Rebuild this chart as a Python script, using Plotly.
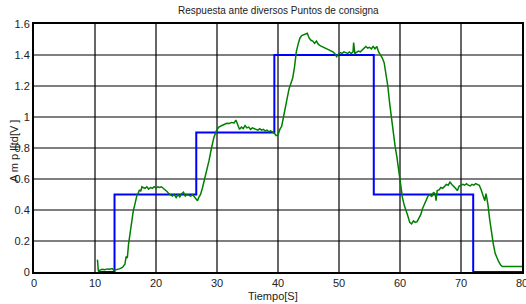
import plotly.graph_objects as go

# Setpoint (step changes)
sp_time = [10.5, 13.2, 26.6, 39.4, 55.7, 72.0, 80.0]
sp_value = [0.0, 0.5, 0.9, 1.4, 0.5, 0.0, 0.0]

# Measured response
resp_time = [
    10.4, 10.45, 10.55, 10.8, 11.2, 11.6, 12.0, 12.4, 12.8, 13.1,
    13.5, 14.0, 14.5, 14.9, 15.1, 15.3, 15.5, 15.7, 15.9, 16.1,
    16.3, 16.5, 16.7, 16.9, 17.1, 17.3, 17.5, 17.7, 17.9, 18.2,
    18.5, 18.8, 19.1, 19.4, 19.7, 20.0, 20.3, 20.6, 20.9, 21.2,
    21.5, 21.8, 22.1, 22.4, 22.7, 23.0, 23.3, 23.6, 23.9, 24.2,
    24.5, 24.8, 25.1, 25.4, 25.7, 26.0, 26.3, 26.6, 26.8, 27.0,
    27.3, 27.6, 28.0, 28.3, 28.7, 29.1, 29.5, 29.9, 30.3, 30.8,
    31.2, 31.6, 32.0, 32.4, 32.8, 33.1, 33.4, 33.7, 34.0, 34.3,
    34.6, 34.9, 35.2, 35.5, 35.8, 36.1, 36.4, 36.7, 37.0, 37.3,
    37.6, 37.9, 38.2, 38.5, 38.8, 39.1, 39.4, 39.7, 40.0, 40.3,
    40.6, 40.9, 41.2, 41.5, 41.8, 42.1, 42.4, 42.7, 43.0, 43.3,
    43.6, 43.9, 44.2, 44.5, 44.8, 45.1, 45.4, 45.7, 46.0, 46.3,
    46.6, 46.9, 47.2, 47.5, 47.8, 48.1, 48.4, 48.7, 49.0, 49.3,
    49.6, 49.9, 50.2, 50.5, 50.8, 51.1, 51.4, 51.7, 52.0, 52.3,
    52.4, 52.6, 52.9, 53.2, 53.5, 53.8, 54.1, 54.4, 54.7, 55.0,
    55.3, 55.6, 55.9, 56.2, 56.5, 56.8, 57.1, 57.4, 57.7, 58.0,
    58.3, 58.6, 58.9, 59.2, 59.5, 59.8, 60.1, 60.4, 60.7, 61.0,
    61.3, 61.6, 61.9, 62.2, 62.5, 62.8, 63.1, 63.4, 63.7, 64.0,
    64.3, 64.6, 64.9, 65.2, 65.5, 65.8, 65.9, 66.1, 66.4, 66.7,
    67.0, 67.3, 67.6, 67.9, 68.2, 68.5, 68.8, 69.1, 69.4, 69.7,
    70.0, 70.3, 70.6, 70.9, 71.2, 71.5, 71.8, 72.1, 72.4, 72.7,
    73.0, 73.3, 73.6, 73.9, 74.1, 74.4, 74.7, 75.0, 75.3, 75.6,
    75.9, 76.2, 76.5, 76.8, 80.0,
]
resp_value = [
    0.08, 0.04, 0.005, 0.012, 0.018, 0.015, 0.02, 0.018, 0.022, 0.012,
    0.015, 0.02, 0.03, 0.05, 0.10, 0.09, 0.18, 0.24, 0.30, 0.34,
    0.40, 0.43, 0.48, 0.50, 0.51, 0.53, 0.52, 0.55, 0.545, 0.54,
    0.55, 0.535, 0.545, 0.54, 0.55, 0.54, 0.55, 0.545, 0.55, 0.54,
    0.535, 0.52, 0.505, 0.50, 0.49, 0.50, 0.48, 0.50, 0.485, 0.505,
    0.515, 0.49, 0.50, 0.495, 0.49, 0.50, 0.485, 0.47, 0.46, 0.48,
    0.50, 0.54, 0.60, 0.65, 0.72, 0.80, 0.87, 0.91, 0.935, 0.945,
    0.955, 0.96, 0.958, 0.965, 0.962, 0.98, 0.95, 0.92, 0.935, 0.925,
    0.945, 0.93, 0.935, 0.92, 0.93, 0.925, 0.92, 0.915, 0.925, 0.915,
    0.92, 0.91, 0.915, 0.905, 0.91, 0.905, 0.895, 0.88, 0.885, 0.92,
    0.94, 1.00, 1.05, 1.12, 1.18, 1.22, 1.25, 1.32, 1.42, 1.47,
    1.51, 1.525, 1.53, 1.535, 1.54, 1.51, 1.495, 1.49, 1.475, 1.49,
    1.47, 1.46, 1.455, 1.45, 1.44, 1.435, 1.43, 1.425, 1.42, 1.41,
    1.39, 1.405, 1.415, 1.41, 1.42, 1.415, 1.41, 1.42, 1.41, 1.42,
    1.48, 1.41, 1.415, 1.425, 1.42, 1.43, 1.445, 1.455, 1.445, 1.45,
    1.44, 1.455, 1.44, 1.455, 1.42, 1.40, 1.38, 1.35, 1.28, 1.20,
    1.09, 0.99, 0.89, 0.81, 0.74, 0.64, 0.55, 0.48, 0.43, 0.40,
    0.36, 0.32, 0.31, 0.33, 0.32, 0.325, 0.35, 0.37, 0.41, 0.44,
    0.46, 0.49, 0.50, 0.485, 0.515, 0.50, 0.46, 0.525, 0.53, 0.545,
    0.54, 0.555, 0.565, 0.56, 0.58, 0.565, 0.555, 0.54, 0.525, 0.555,
    0.56, 0.565, 0.56, 0.57, 0.56, 0.555, 0.565, 0.56, 0.57, 0.565,
    0.56, 0.53, 0.50, 0.46, 0.505, 0.44, 0.34, 0.24, 0.18, 0.12,
    0.09, 0.065, 0.045, 0.035, 0.035,
]

x_ticks = [0, 10, 20, 30, 40, 50, 60, 70, 80]
y_ticks = [0, 0.2, 0.4, 0.6, 0.8, 1.0, 1.2, 1.4, 1.6]
y_tick_labels = ["0", "0.2", "0.4", "0.6", "0.8", "1", "1.2", "1.4", "1.6"]

title_text = "Respuesta ante diversos Puntos de consigna"
x_label = "Tiempo[S]"
y_label = "A m p l[td[V ]"

FONT = "Liberation Sans Narrow, Arial Narrow, Liberation Sans, Arial, sans-serif"

fig = go.Figure()

# Grid lines (drawn as shapes on the tick positions)
for xv in x_ticks[1:-1]:
    fig.add_shape(type="line", xref="x", yref="paper", x0=xv, x1=xv, y0=0, y1=1,
                  line=dict(color="black", width=1.2), layer="below")
for yv in y_ticks[1:-1]:
    fig.add_shape(type="line", xref="paper", yref="y", x0=0, x1=1, y0=yv, y1=yv,
                  line=dict(color="black", width=1.2), layer="below")

fig.add_trace(go.Scatter(x=sp_time, y=sp_value, mode="lines", line_shape="hv",
                         line=dict(color="#0000FF", width=2), showlegend=False))
fig.add_trace(go.Scatter(x=resp_time, y=resp_value, mode="lines",
                         line=dict(color="#008000", width=1.5), showlegend=False))

fig.update_layout(
    template="none",
    width=526, height=304,
    autosize=False,
    margin=dict(l=34, r=4, t=24, b=32, autoexpand=False),
    paper_bgcolor="white", plot_bgcolor="white",
    font=dict(family=FONT, size=11, color="#222222"),
    showlegend=False,
    xaxis=dict(range=[0, 80], tickvals=x_ticks, showgrid=False,
               showline=True, linecolor="black", linewidth=2,
               mirror=True, zeroline=False, ticks="", tickfont=dict(size=11),
               automargin=False, ticklabeloverflow="allow"),
    yaxis=dict(range=[0, 1.6], tickvals=y_ticks, ticktext=y_tick_labels,
               showgrid=False, showline=True,
               linecolor="black", linewidth=2, mirror=True, zeroline=False,
               ticks="", tickfont=dict(size=11), automargin=False,
               ticklabeloverflow="allow"),
    annotations=[
        dict(text=title_text, xref="paper", yref="paper", x=0.5, y=1.056,
             xanchor="center", yanchor="middle", showarrow=False,
             font=dict(family=FONT, size=10, color="#222222")),
        dict(text=x_label, xref="paper", yref="paper", x=0.49, y=-0.095,
             xanchor="center", yanchor="middle", showarrow=False,
             font=dict(family=FONT, size=11, color="#222222")),
        dict(text=y_label, xref="paper", yref="paper", x=-0.04, y=0.49,
             xanchor="center", yanchor="middle", showarrow=False, textangle=-90,
             font=dict(family=FONT, size=11, color="#222222")),
    ],
)

fig.write_html("out.html", config={"displayModeBar": False},
               post_script="document.body.style.margin='0';document.body.style.padding='0';")
